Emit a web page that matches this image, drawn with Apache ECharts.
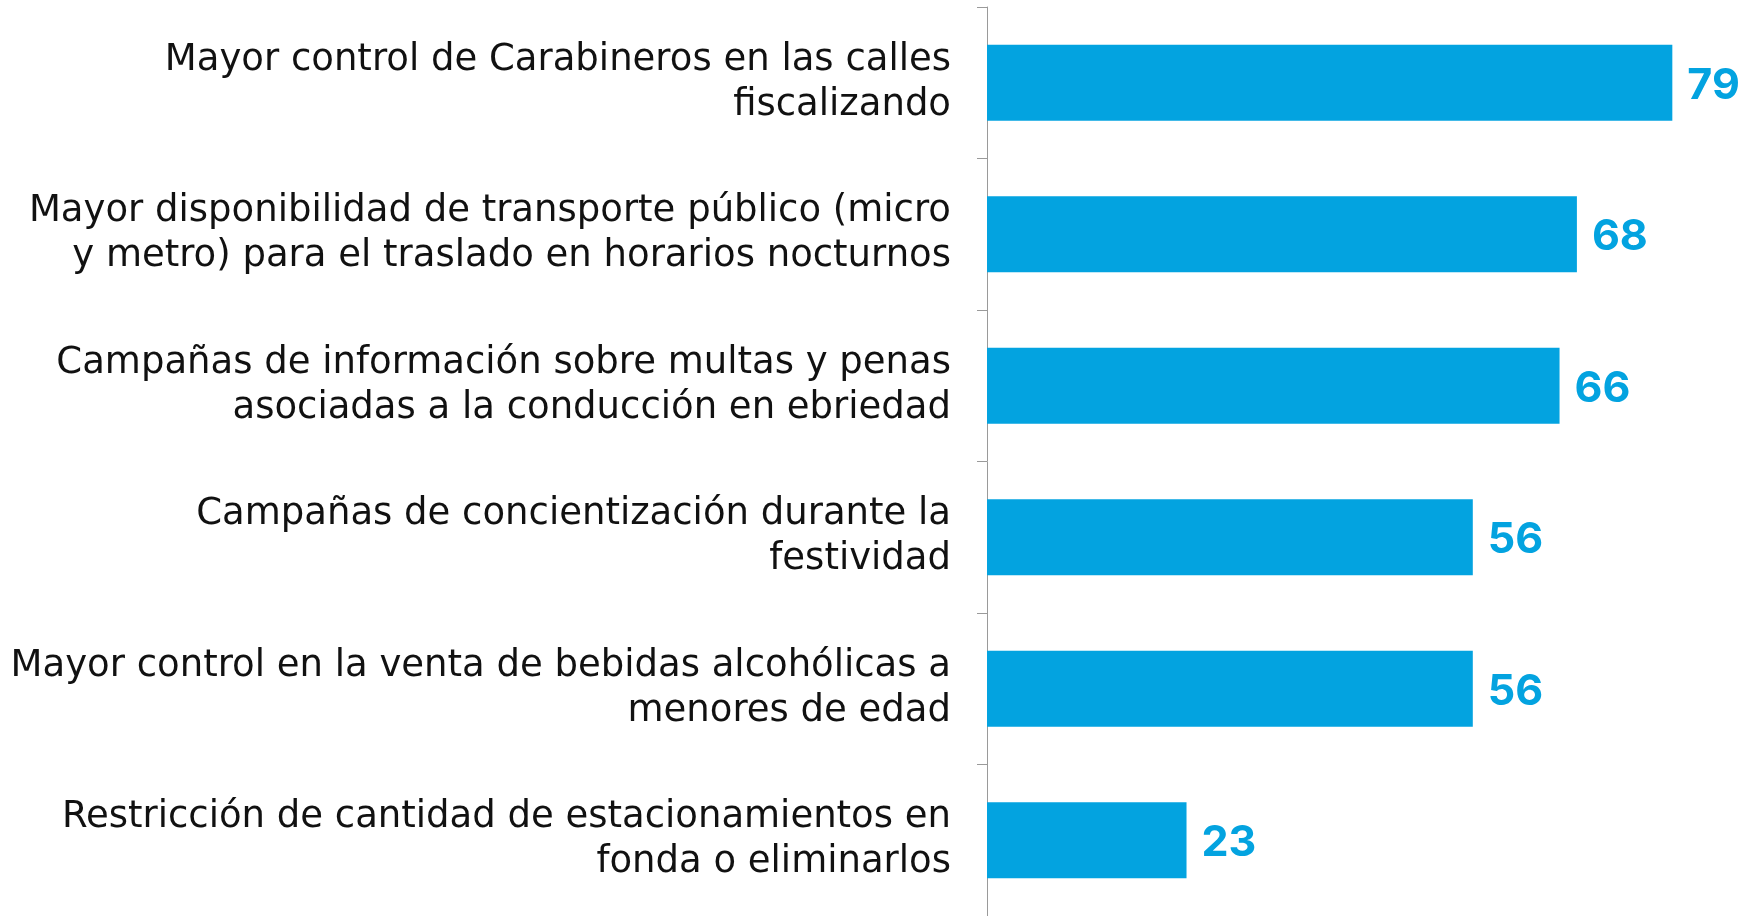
<!DOCTYPE html>
<html>
<head>
<meta charset="utf-8">
<title>Medidas</title>
<script src="https://cdn.jsdelivr.net/npm/echarts@6/dist/echarts.min.js"></script>
<style>
  html, body { margin: 0; padding: 0; background: #fff; }
  #main { width: 1746px; height: 916px; }
</style>
</head>
<body>
<div id="main"></div>
<script>
var categories = [
    'Mayor control de Carabineros en las calles\nfiscalizando',
    'Mayor disponibilidad de transporte público (micro\ny metro) para el traslado en horarios nocturnos',
    'Campañas de información sobre multas y penas\nasociadas a la conducción en ebriedad',
    'Campañas de concientización durante la\nfestividad',
    'Mayor control en la venta de bebidas alcohólicas a\nmenores de edad',
    'Restricción de cantidad de estacionamientos en\nfonda o eliminarlos'
];
var values = [79, 68, 66, 56, 56, 23];

var myChart = echarts.init(document.getElementById('main'));

var option = {
    animation: false,
    grid: {
        left: 987,
        right: 65,
        top: 7,
        bottom: 0,
        containLabel: false
    },
    xAxis: {
        type: 'value',
        min: 0,
        max: 80,
        show: false
    },
    yAxis: {
        type: 'category',
        inverse: true,
        data: categories,
        axisLine: { show: true, lineStyle: { color: '#9a9a9a', width: 1 } },
        axisTick: { show: true, length: 10, lineStyle: { color: '#9a9a9a' } },
        axisLabel: {
            margin: 36,
            fontFamily: 'DejaVu Sans',
            fontWeight: 'normal',
            fontSize: 37,
            lineHeight: 45,
            color: '#111',
            align: 'right',
            padding: [11, 0, 0, 0]
        }
    },
    series: [{
        type: 'bar',
        data: values,
        barWidth: 76,
        itemStyle: { color: '#03a3e0' },
        label: {
            show: true,
            position: 'right',
            distance: 15,
            offset: [0, 3],
            fontFamily: 'Inter',
            fontWeight: 'bold',
            fontSize: 43,
            color: '#03a3e0'
        }
    }]
};

myChart.setOption(option);
</script>
</body>
</html>
